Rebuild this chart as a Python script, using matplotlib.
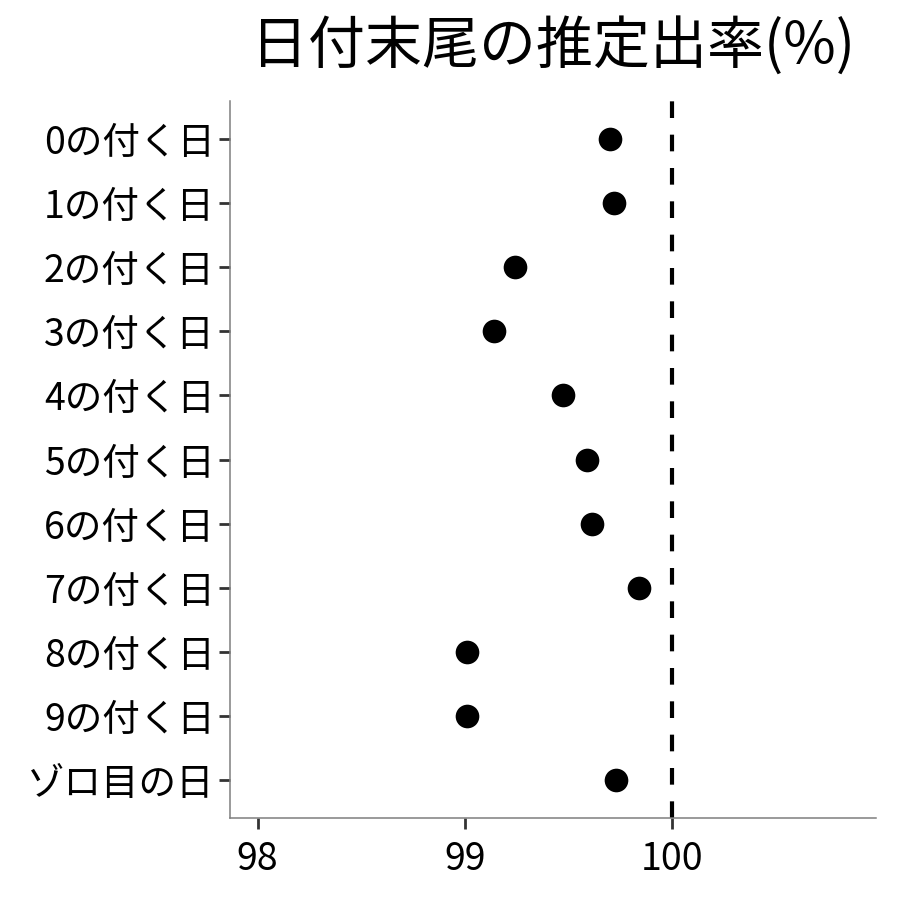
import matplotlib
matplotlib.use("Agg")
import matplotlib.pyplot as plt

plt.rcParams['font.family'] = ['Noto Sans CJK JP', 'DejaVu Sans']

categories = ["0の付く日", "1の付く日", "2の付く日", "3の付く日", "4の付く日",
              "5の付く日", "6の付く日", "7の付く日", "8の付く日", "9の付く日", "ゾロ目の日"]
values = [99.70, 99.72, 99.24, 99.14, 99.47, 99.59, 99.61, 99.84, 99.01, 99.01, 99.73]
x_ticks = [98, 99, 100]
ref_value = 100
title = "日付末尾の推定出率(%)"

fig = plt.figure(figsize=(9, 9), dpi=100)
ax = fig.add_axes([230/900, 1-818/900, (876-230)/900, (818-101)/900])

n = len(categories)
ypos = list(range(n))
ax.scatter(values, ypos, s=290, color='black', zorder=3, linewidths=0)
ax.axvline(ref_value, color='black', linewidth=3, linestyle=(0, (4, 4)), zorder=2)

ax.set_xlim(97.867, 100.981)
ax.set_ylim(n - 1 + 0.6, -0.6)
ax.set_yticks(ypos)
ax.set_yticklabels(categories)
ax.set_xticks(x_ticks)
ax.set_xticklabels([str(t) for t in x_ticks])

for s in ['top', 'right']:
    ax.spines[s].set_visible(False)
for s in ['left', 'bottom']:
    ax.spines[s].set_color('#7f7f7f')
    ax.spines[s].set_linewidth(1.1)

ax.tick_params(axis='both', length=8, width=2, color='#333333', labelsize=27, labelcolor='black')
ax.tick_params(axis='y', pad=3)
ax.tick_params(axis='x', pad=8)

fig.text((230+876)/2/900, 1-46/900, title, ha='center', va='center', fontsize=41, color='black')

fig.savefig("out.png", dpi=100)
